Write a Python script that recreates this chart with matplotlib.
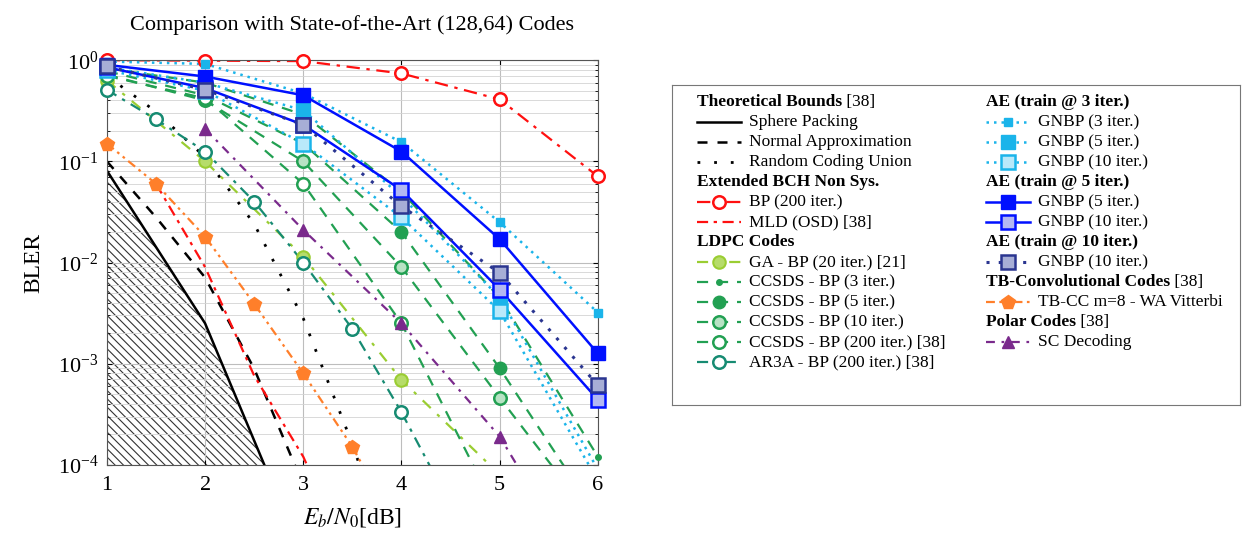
import matplotlib.pyplot as plt
from matplotlib.lines import Line2D

plt.rcParams['font.family'] = ['Liberation Serif', 'DejaVu Serif']
plt.rcParams['mathtext.fontset'] = 'stix'
plt.rcParams['hatch.color'] = '#333333'
plt.rcParams['hatch.linewidth'] = 0.8

# ---- data ----
ebn0 = [1, 2, 3, 4, 5, 6]
ebn0_half = [1, 1.5, 2, 2.5, 3, 3.5, 4, 4.5]

sp_x = [1, 2, 3]
sphere_packing = [8.1e-2, 2.5e-3, 1.2e-5]
na_x = [1, 1.5, 2, 2.5, 3]
normal_approx = [1.0e-1, 2.8e-2, 7.1e-3, 8.9e-4, 6.3e-5]
rcu_x = [1, 1.5, 2, 2.5, 3, 3.5, 4]
rcu = [0.7, 0.31, 0.11, 2.4e-2, 2.8e-3, 1.6e-4, 6e-6]

bch_bp = [1.0, 0.99, 0.98, 0.74, 0.41, 0.071]
mld_x = [1.5, 2, 2.5, 3, 3.5]
bch_mld = [6e-2, 9e-3, 7.6e-4, 1.2e-4, 1e-5]

ga_x = [1, 2, 3, 4, 5]
ga_bp = [0.63, 0.10, 1.14e-2, 6.9e-4, 8e-5]
ccsds_3 = [0.83, 0.6, 0.29, 0.05, 4.5e-3, 1.2e-4]
ccsds_5 = [0.78, 0.45, 0.15, 0.02, 9e-4, 3e-5]
ccsds_10 = [0.72, 0.4, 0.1, 9e-3, 4.6e-4, 2.5e-5]
ccsds_200 = [0.7, 0.42, 0.06, 2.5e-3, 3e-5]
ar3a = [0.51, 0.26, 0.125, 0.04, 1.0e-2, 2.2e-3, 3.3e-4, 4e-5]

ae3_gnbp3 = [0.97, 0.92, 0.47, 0.155, 2.5e-2, 3.2e-3]
ae3_gnbp5 = [0.85, 0.6, 0.32, 0.045, 4.5e-3, 9e-5]
ae3_gnbp10 = [0.8, 0.5, 0.15, 0.028, 3.3e-3, 7e-5]
ae5_gnbp5 = [0.9, 0.69, 0.45, 0.125, 1.7e-2, 1.26e-3]
ae5_gnbp10 = [0.85, 0.53, 0.23, 0.052, 5.4e-3, 4.4e-4]
ae10_gnbp10 = [0.87, 0.51, 0.23, 0.036, 7.9e-3, 6.1e-4]

tbcc_x = [1, 1.5, 2, 2.5, 3, 3.5, 4]
tbcc = [0.15, 0.06, 1.8e-2, 3.9e-3, 8e-4, 1.5e-4, 2e-5]
polar_x = [2, 3, 4, 5, 5.5]
polar_sc = [0.21, 2.1e-2, 2.5e-3, 1.9e-4, 3e-5]

# ---- styles ----
c_green = '#22a052'
c_teal = '#168b72'
c_ga = '#9acd32'
c_cyan = '#1ab4ea'
c_blue = '#0010ff'
c_navy = '#2a3590'
c_orange = '#ff7f2a'
c_purple = '#7a2a8c'
c_red = '#ff1010'

dash = (0, (5, 4))
series = [
    (sp_x, sphere_packing, dict(color='black', ls='-', lw=1.8)),
    (na_x, normal_approx, dict(color='black', ls=(0, (4, 4)), lw=1.8)),
    (rcu_x, rcu, dict(color='black', ls=(0, (1, 5)), lw=2.0)),
    (ebn0, bch_bp, dict(color=c_red, ls=(0, (6, 3, 1.5, 3)), lw=1.6, marker='o', ms=9, mfc='white', mew=1.8)),
    (mld_x, bch_mld, dict(color=c_red, ls=(0, (5, 2.5, 1.5, 2.5)), lw=1.6)),
    (ga_x, ga_bp, dict(color=c_ga, ls=(0, (5, 4, 1.5, 4)), lw=1.6, marker='o', ms=9, mfc='#b6dc6a', mew=1.5)),
    (ebn0, ccsds_3, dict(color=c_green, ls=dash, lw=1.6, marker='o', ms=4)),
    (ebn0, ccsds_5, dict(color=c_green, ls=dash, lw=1.6, marker='o', ms=9)),
    (ebn0, ccsds_10, dict(color=c_green, ls=dash, lw=1.6, marker='o', ms=9, mfc='#b8e2c4', mew=1.8)),
    (ebn0[:5], ccsds_200, dict(color=c_green, ls=dash, lw=1.6, marker='o', ms=9, mfc='white', mew=1.8)),
    (ebn0_half, ar3a, dict(color=c_teal, ls=(0, (5, 3, 1.5, 3)), lw=1.6, marker='o', ms=9, mfc='white', mew=1.8)),
    (ebn0, ae3_gnbp3, dict(color=c_cyan, ls=(0, (1, 2)), lw=1.8, marker='s', ms=6)),
    (ebn0, ae3_gnbp5, dict(color=c_cyan, ls=(0, (1, 2)), lw=1.8, marker='s', ms=10)),
    (ebn0, ae3_gnbp10, dict(color=c_cyan, ls=(0, (1, 2)), lw=1.8, marker='s', ms=10, mfc='#b9e9fa', mew=1.8)),
    (ebn0, ae5_gnbp5, dict(color=c_blue, ls='-', lw=1.8, marker='s', ms=10)),
    (ebn0, ae5_gnbp10, dict(color=c_blue, ls='-', lw=1.8, marker='s', ms=10, mfc='#b3b8f2', mew=1.8)),
    (ebn0, ae10_gnbp10, dict(color=c_navy, ls=(0, (1, 3)), lw=2.2, marker='s', ms=10, mfc='#a7aed6', mew=1.8)),
    (tbcc_x, tbcc, dict(color=c_orange, ls=(0, (4, 2, 1.2, 2, 1.2, 2)), lw=1.6, marker='p', ms=10)),
    (polar_x, polar_sc, dict(color=c_purple, ls=(0, (4, 3, 1.2, 3)), lw=1.6, marker='^', ms=9)),
]

fig = plt.figure(figsize=(12.43, 5.33), dpi=100)
ax = fig.add_axes([0.086, 0.128, 0.395, 0.759])
ymin, ymax = 1e-4, 1

ax.fill_between(sp_x, 1e-5, sphere_packing, facecolor='none', edgecolor='#333333',
                hatch='\\\\\\\\', lw=0)
for x, y, st in series:
    st = dict(st)
    mk = {k: st.pop(k) for k in ['marker', 'ms', 'mfc', 'mew'] if k in st}
    ax.plot(x, y, **st)
    if mk:
        # markers are not clipped at the frame, as in the original
        pts = [(a, b) for a, b in zip(x, y) if b >= ymin]
        ax.plot([p[0] for p in pts], [p[1] for p in pts], ls='none',
                color=st['color'], clip_on=False, zorder=3, **mk)

ax.set_yscale('log')
ax.set_xlim(1, 6)
ax.set_ylim(ymin, ymax)
ax.set_xticks(ebn0)
ax.grid(True, which='major', color='#bdbdbd', lw=0.8)
ax.grid(True, which='minor', axis='y', color='#d3d3d3', lw=0.6)
ax.tick_params(which='both', direction='in', right=True, top=True, labelsize=16)
ax.tick_params(axis='x', pad=8)
ax.tick_params(axis='y', pad=6)
ax.set_xlabel(r'$E_b/N_0$[dB]', fontsize=17, labelpad=8)
ax.set_ylabel('BLER', fontsize=17, labelpad=10)
ax.set_title('Comparison with State-of-the-Art (128,64) Codes', fontsize=16, pad=22)
for s in ax.spines.values():
    s.set_color('#555555')

# ---- legend panel ----
lax = fig.add_axes([672 / 1243, 1 - 405 / 533, (1240 - 672) / 1243, (405 - 85) / 533])
lax.set_xlim(672, 1240)
lax.set_ylim(405, 85)
lax.set_xticks([])
lax.set_yticks([])
for s in lax.spines.values():
    s.set_color('#777777')

left_rows = [
    ('Theoretical Bounds', ' [38]', None),
    ('', 'Sphere Packing', 1),
    ('', 'Normal Approximation', 2),
    ('', 'Random Coding Union', 3),
    ('Extended BCH Non Sys.', '', None),
    ('', 'BP (200 iter.)', 4),
    ('', 'MLD (OSD) [38]', 5),
    ('LDPC Codes', '', None),
    ('', 'GA - BP (20 iter.) [21]', 6),
    ('', 'CCSDS - BP (3 iter.)', 7),
    ('', 'CCSDS - BP (5 iter.)', 8),
    ('', 'CCSDS - BP (10 iter.)', 9),
    ('', 'CCSDS - BP (200 iter.) [38]', 10),
    ('', 'AR3A - BP (200 iter.) [38]', 11),
]
right_rows = [
    ('AE (train @ 3 iter.)', '', None),
    ('', 'GNBP (3 iter.)', 12),
    ('', 'GNBP (5 iter.)', 13),
    ('', 'GNBP (10 iter.)', 14),
    ('AE (train @ 5 iter.)', '', None),
    ('', 'GNBP (5 iter.)', 15),
    ('', 'GNBP (10 iter.)', 16),
    ('AE (train @ 10 iter.)', '', None),
    ('', 'GNBP (10 iter.)', 17),
    ('TB-Convolutional Codes', ' [38]', None),
    ('', 'TB-CC m=8 - WA Vitterbi', 18),
    ('Polar Codes', ' [38]', None),
    ('', 'SC Decoding', 19),
]


def draw_column(rows, x0, y0):
    for i, (head, label, idx) in enumerate(rows):
        y = y0 + i * 20
        if idx is None:
            t = lax.text(x0, y, head, fontsize=12.5, fontweight='bold', va='center')
            if label:
                lax.annotate(label, xycoords=t, xy=(1, 0.5), va='center', fontsize=12.5)
        else:
            st = dict(series[idx - 1][2])
            mk = {k: st.pop(k) for k in ['marker', 'ms', 'mfc', 'mew'] if k in st}
            lax.add_line(Line2D([x0, x0 + 44], [y, y], **st))
            if 'marker' in mk:
                lax.add_line(Line2D([x0 + 22], [y], color=st['color'], ls='none', **mk))
            lax.text(x0 + 52, y, label, fontsize=12.5, va='center')


draw_column(left_rows, 697, 102)
draw_column(right_rows, 986, 102)

fig.savefig('out.png', dpi=100)
